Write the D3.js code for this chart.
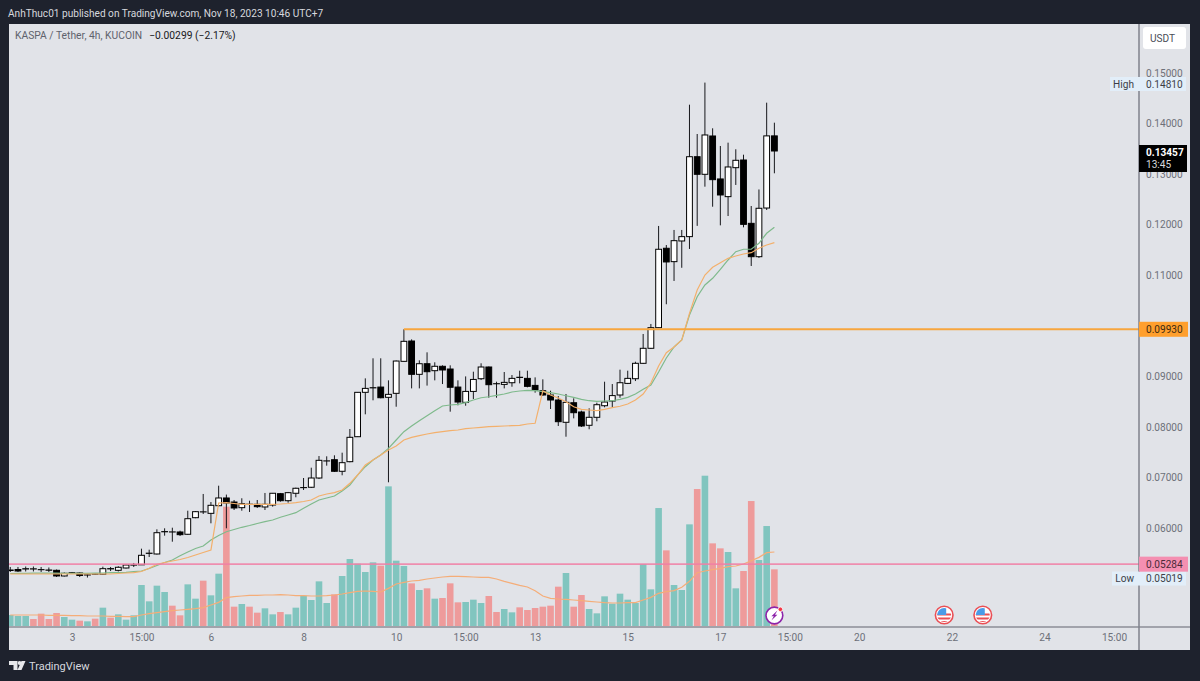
<!DOCTYPE html>
<html>
<head>
<meta charset="utf-8">
<title>KASPA / Tether, 4h</title>
<script src="https://cdn.jsdelivr.net/npm/d3@7/dist/d3.min.js"></script>
<style>
  html, body { margin: 0; padding: 0; background: #1e222d; }
  svg { display: block; }
  text { font-family: Roboto, "Noto Sans", sans-serif; }
</style>
</head>
<body>
<svg id="chart" width="1200" height="681"></svg>
<script>
// KASPA/USDT 4h candles, one entry per bar
const opens = [.05168,.05178,.05188,.05188,.05174,.05168,.05162,.05050,.05115,.05109,
  .05069,.05085,.05085,.05190,.05162,.05208,.05265,.05271,.05497,.05485,
  .05924,.05920,.05920,.05875,.06203,.06317,.06289,.06440,.06593,.06513,
  .06401,.06468,.06468,.06415,.06454,.06678,.06539,.06686,.06797,.06805,
  .06988,.07325,.07350,.07121,.07311,.07805,.08683,.08771,.08787,.08584,
  .08663,.09296,.09698,.09039,.09249,.09111,.09198,.09144,.08787,.08485,
  .08701,.08952,.09184,.08854,.08840,.08873,.08977,.08959,.08820,.08715,
  .08630,.08531,.08090,.08477,.08294,.08031,.08189,.08418,.08511,.08630,
  .08860,.08952,.09257,.09554,.09962,.11533,.11268,.11677,.11763,.13344,
  .12996,.13754,.12904,.12554,.13127,.13279,.12026,.11366,.12329,.13756];
const highs = [.05228,.05228,.05237,.05237,.05228,.05218,.05178,.05119,.05129,.05119,
  .05109,.05099,.05234,.05228,.05242,.05277,.05307,.05590,.05570,.05973,
  .05993,.06005,.05946,.06341,.06335,.06672,.06513,.06836,.06660,.06553,
  .06587,.06539,.06553,.06692,.06692,.06692,.06712,.06797,.06988,.07192,
  .07423,.07417,.07437,.07489,.07957,.08689,.08959,.09356,.09356,.08920,
  .09312,.09930,.09731,.09316,.09474,.09277,.09217,.09217,.08920,.08998,
  .09091,.09257,.09194,.08893,.09085,.09025,.09111,.09111,.08979,.08940,
  .08715,.08610,.08650,.08564,.08320,.08367,.08478,.08893,.08847,.09131,
  .09111,.09289,.09837,.10035,.11974,.11597,.11895,.11895,.14373,.13793,
  .14810,.13906,.13556,.13622,.13491,.13384,.12369,.12696,.14413,.14017];
const lows = [.05129,.05129,.05139,.05139,.05129,.05129,.05030,.05040,.05089,.05030,
  .05019,.05079,.05079,.05148,.05139,.05198,.05228,.05267,.05425,.05475,
  .05847,.05728,.05841,.05867,.06193,.06276,.06092,.06428,.05993,.06355,
  .06341,.06316,.06395,.06355,.06421,.06519,.06500,.06607,.06751,.06791,
  .06968,.07232,.07107,.07042,.07299,.07799,.08248,.08525,.08564,.06903,
  .08398,.09292,.08761,.08761,.08816,.08920,.08847,.08300,.08426,.08418,
  .08551,.08926,.08576,.08576,.08761,.08794,.08860,.08781,.08676,.08610,
  .08353,.08017,.07805,.08168,.07997,.07952,.08110,.08387,.08387,.08576,
  .08847,.08906,.09247,.09540,.09956,.10425,.10886,.11147,.11519,.11976,
  .12751,.12355,.11986,.12171,.12785,.11947,.11182,.11341,.12290,.13016];
const closes = [.05158,.05148,.05194,.05192,.05176,.05164,.05050,.05103,.05113,.05060,
  .05073,.05089,.05194,.05196,.05222,.05267,.05269,.05459,.05501,.05906,
  .05928,.05922,.05867,.06183,.06322,.06319,.06448,.06593,.06494,.06395,
  .06480,.06470,.06421,.06468,.06686,.06539,.06698,.06785,.06799,.06988,
  .07338,.07327,.07121,.07291,.07793,.08683,.08761,.08775,.08576,.08643,
  .09302,.09692,.09039,.09249,.09091,.09198,.09125,.08783,.08491,.08701,
  .08938,.09184,.08834,.08852,.08880,.08959,.08981,.08801,.08729,.08630,
  .08531,.08102,.08485,.08280,.08017,.08189,.08438,.08491,.08618,.08873,
  .08959,.09257,.09554,.09962,.11513,.11262,.11683,.11763,.13344,.12996,
  .13774,.12890,.12587,.13141,.13273,.12006,.11366,.12324,.13756,.13457];

// Moving averages over the candles
const greenAverage = [.05099,.05103,.05103,.05105,.05105,.05105,.05105,.05103,.05103,.05103,
  .05103,.05105,.05109,.05115,.05119,.05123,.05135,.05148,.05198,.05257,
  .05317,.05366,.05451,.05525,.05594,.05643,.05762,.05851,.05926,.05969,
  .06013,.06048,.06088,.06124,.06157,.06211,.06256,.06302,.06389,.06474,
  .06553,.06593,.06632,.06731,.06850,.07047,.07212,.07344,.07443,.07575,
  .07740,.07904,.08017,.08122,.08221,.08320,.08412,.08432,.08446,.08478,
  .08531,.08576,.08596,.08624,.08650,.08689,.08709,.08723,.08715,.08695,
  .08676,.08650,.08616,.08584,.08545,.08517,.08505,.08511,.08517,.08545,
  .08584,.08650,.08743,.08828,.09085,.09362,.09580,.09718,.10213,.10575,
  .10806,.10939,.11117,.11301,.11465,.11513,.11513,.11631,.11829,.11948];
const orangeAverage = [.05089,.05089,.05089,.05089,.05089,.05089,.05089,.05089,.05089,.05089,
  .05089,.05089,.05089,.05089,.05099,.05109,.05115,.05139,.05202,.05281,
  .05317,.05346,.05376,.05416,.05465,.05514,.05564,.06494,.06500,.06484,
  .06468,.06468,.06468,.06468,.06468,.06474,.06484,.06500,.06523,.06553,
  .06632,.06672,.06698,.06751,.06883,.07047,.07245,.07344,.07443,.07542,
  .07621,.07740,.07793,.07825,.07858,.07884,.07904,.07924,.07938,.07964,
  .07977,.07991,.08003,.08011,.08017,.08023,.08031,.08056,.08070,.08709,
  .08630,.08571,.08497,.08398,.08347,.08333,.08320,.08347,.08379,.08407,
  .08452,.08531,.08650,.08867,.09204,.09467,.09580,.09718,.10246,.10707,
  .11004,.11156,.11247,.11334,.11380,.11420,.11446,.11533,.11598,.11644];

// Volume histogram and its average, in thousands of KAS
const volumes = [33,30,30,21,37,21,39,27,19,16,14,22,55,25,35,19,32,123,74,121,
  102,61,32,125,82,136,92,157,358,58,66,58,40,53,35,42,35,55,91,78,
  134,69,95,150,201,187,162,191,181,419,196,180,128,108,113,82,84,128,71,72,
  79,69,90,42,51,41,56,48,54,58,61,118,159,58,93,51,38,89,67,97,
  79,69,186,110,354,227,123,108,305,411,451,248,233,222,113,165,375,198,300,170];
const volumeAverage = [33,33,33,33,33,32,32,32,31,31,30,30,30,29,29,28,28,33,37,40,
  43,46,48,50,52,55,63,71,85,88,90,92,92,93,93,94,93,91,91,90,
  90,91,93,96,100,104,105,104,102,113,126,131,135,137,141,144,147,149,149,148,
  147,146,146,141,134,128,122,117,106,90,83,81,80,78,76,74,72,70,69,69,
  70,70,78,86,98,103,106,116,134,160,165,169,173,178,180,186,196,206,220,222];
const sellBars = [3,4,5,6,9,11,13,21,22,25,28,29,31,32,35,42,48,52,54,56,57,58,62,63,66,67,68,69,70,71,73,74,85,89,91,92,95,96,99];

// Axis labels
const priceTicks = [.15,.14,.13,.12,.11,.09,.08,.07,.06];
const timeTickBars = [8,17,26,38,50,59,68,80,92,101,110,122,134,143];
const timeTickLabels = ["3","15:00","6","8","10","15:00","13","15","17","15:00","20","22","24","15:00"];

// Levels called out on the price scale
const resistance = 0.0993;
const support = 0.05284;
const resistanceStartBar = 51;
const highPrice = 0.1481;
const lowPrice = 0.05019;
const lastPrice = 0.13457;
const barCountdown = "13:45";
const lightningBar = 99;
const flagBars = [121, 126];

const plot = { left: 9, right: 1139, top: 24, bottom: 627, frame: 650, outer: 1190 };
const labelSize = 10.1;

const x = d3.scaleLinear().domain([8, 143]).range([72, 1114]);
const y = d3.scaleLinear().domain([0.05, 0.15]).range([578.5, 73]);
const yVolume = d3.scaleLinear().domain([0, 451]).range([626, 475.7]);

const svg = d3.select("#chart");
const bars = d3.range(opens.length);

// Page header and chart frame
svg.append("rect").attr("width", 1200).attr("height", 681).attr("fill", "#1e222d");
svg.append("text").attr("x", 8).attr("y", 16.5).attr("font-size", 10.1).attr("fill", "#d6d8de")
  .text("AnhThuc01 published on TradingView.com, Nov 18, 2023 10:46 UTC+7");
svg.append("rect").attr("x", plot.left).attr("y", plot.top)
  .attr("width", plot.outer - plot.left).attr("height", plot.frame - plot.top).attr("fill", "#e1e3e8");

svg.append("defs").append("clipPath").attr("id", "pane").append("rect")
  .attr("x", plot.left).attr("y", plot.top)
  .attr("width", plot.right - plot.left).attr("height", plot.bottom - plot.top);
const pane = svg.append("g").attr("clip-path", "url(#pane)");

// Volume bars
pane.append("g").selectAll("rect").data(bars).join("rect")
  .attr("x", i => x(i) - 3.3).attr("width", 6.6)
  .attr("y", i => yVolume(volumes[i]))
  .attr("height", i => yVolume(0) - yVolume(volumes[i]))
  .attr("fill", i => sellBars.includes(i) ? "#ee9b9b" : "#81c5bf");

const lineOf = (scale, series) => d3.line().x((d, i) => x(i)).y(d => scale(d))(series);

pane.append("path").attr("d", lineOf(yVolume, volumeAverage))
  .attr("fill", "none").attr("stroke", "#f5ad78").attr("stroke-width", 1.2);

// Candles: wick first, then the body
const candle = pane.append("g").selectAll("g").data(bars).join("g");
candle.append("line")
  .attr("x1", i => x(i)).attr("x2", i => x(i))
  .attr("y1", i => y(highs[i])).attr("y2", i => y(lows[i]))
  .attr("stroke", "#17181c").attr("stroke-width", 1);
candle.append("rect")
  .attr("x", i => x(i) - 2.9).attr("width", 5.8)
  .attr("y", i => y(Math.max(opens[i], closes[i])))
  .attr("height", i => Math.abs(y(opens[i]) - y(closes[i])))
  .attr("fill", i => closes[i] >= opens[i] ? "#ffffff" : "#000000")
  .attr("stroke", "#000000").attr("stroke-width", 1);

// Candle averages sit above the candles
pane.append("path").attr("d", lineOf(y, greenAverage))
  .attr("fill", "none").attr("stroke", "#7fba8c").attr("stroke-width", 1.2);
pane.append("path").attr("d", lineOf(y, orangeAverage))
  .attr("fill", "none").attr("stroke", "#f3b06c").attr("stroke-width", 1.2);

// Horizontal levels
pane.append("line").attr("x1", x(resistanceStartBar)).attr("x2", plot.right)
  .attr("y1", y(resistance)).attr("y2", y(resistance))
  .attr("stroke", "#f7a63e").attr("stroke-width", 2);
pane.append("line").attr("x1", plot.left).attr("x2", plot.right)
  .attr("y1", y(support)).attr("y2", y(support))
  .attr("stroke", "#f07fa4").attr("stroke-opacity", 0.85).attr("stroke-width", 1.6);

// Economic calendar flags and the lightning event marker
const clip = svg.select("defs");
flagBars.forEach((bar, n) => {
  const cx = x(bar), cy = 615;
  clip.append("clipPath").attr("id", "flag" + n).append("circle").attr("cx", cx).attr("cy", cy).attr("r", 7);
  const g = svg.append("g");
  g.append("circle").attr("cx", cx).attr("cy", cy).attr("r", 8.8)
    .attr("fill", "#ffffff").attr("stroke", "#ea4f55").attr("stroke-width", 1.6);
  const f = g.append("g").attr("clip-path", `url(#flag${n})`);
  f.append("rect").attr("x", cx - 8).attr("y", cy - 8).attr("width", 16).attr("height", 16).attr("fill", "#ffffff");
  [-1.5, 2.5, 6].forEach(dy => f.append("rect").attr("x", cx - 8).attr("y", cy + dy)
    .attr("width", 16).attr("height", 2).attr("fill", "#ea4f55"));
  f.append("rect").attr("x", cx - 8).attr("y", cy - 8).attr("width", 10).attr("height", 8).attr("fill", "#4a9be8");
});
{
  const cx = x(lightningBar), cy = 615.5;
  svg.append("circle").attr("cx", cx).attr("cy", cy).attr("r", 8.4)
    .attr("fill", "#ffffff").attr("stroke", "#8e24aa").attr("stroke-width", 1.6);
  svg.append("path").attr("fill", "#8e24aa")
    .attr("d", `M${cx + 3},${cy - 5} L${cx - 3},${cy + 0.8} H${cx - 0.6} L${cx - 3},${cy + 5} L${cx + 3},${cy - 0.8} H${cx + 0.6} Z`);
  svg.append("circle").attr("cx", cx + 6).attr("cy", cy - 6.2).attr("r", 2.3)
    .attr("fill", "#f23645").attr("stroke", "#ffffff").attr("stroke-width", 0.8);
}

// Time axis
const axisColor = "#6d7079";
const timeAxis = svg.append("g").attr("transform", `translate(0,${plot.bottom})`)
  .call(d3.axisBottom(x).tickValues(timeTickBars)
    .tickFormat(d => timeTickLabels[timeTickBars.indexOf(d)]).tickSize(0).tickPadding(7));
timeAxis.select(".domain").remove();
timeAxis.selectAll("text").attr("font-family", "Roboto, sans-serif").attr("font-size", labelSize).attr("fill", axisColor);

// Price axis
const priceAxis = svg.append("g").attr("transform", `translate(${plot.right},0)`)
  .call(d3.axisRight(y).tickValues(priceTicks).tickFormat(d3.format(".5f")).tickSize(0).tickPadding(7));
priceAxis.select(".domain").remove();
priceAxis.selectAll("text").attr("font-family", "Roboto, sans-serif").attr("font-size", labelSize).attr("fill", axisColor);

// Pane separators
svg.append("line").attr("x1", plot.left).attr("x2", plot.outer).attr("y1", plot.bottom).attr("y2", plot.bottom)
  .attr("stroke", "#8b8e97").attr("stroke-width", 1.5);
svg.append("line").attr("x1", plot.right).attr("x2", plot.right).attr("y1", plot.top).attr("y2", plot.frame)
  .attr("stroke", "#7f828c").attr("stroke-width", 1.5);

// Currency button
svg.append("rect").attr("x", 1143).attr("y", 27).attr("width", 43).attr("height", 22).attr("rx", 3).attr("fill", "#ffffff");
svg.append("text").attr("x", 1162.5).attr("y", 42).attr("text-anchor", "middle").attr("font-size", labelSize).attr("fill", "#4a4d57").text("USDT");

// Price tags on the axis
function tag(cy, h, fill, color, label, width) {
  svg.append("rect").attr("x", plot.right).attr("y", cy - h / 2).attr("width", width).attr("height", h).attr("fill", fill);
  svg.append("text").attr("x", plot.right + 7).attr("y", cy + 3.7).attr("font-size", labelSize).attr("fill", color).text(label);
}
function sideTag(cy, leftEdge, label) {
  svg.append("rect").attr("x", leftEdge).attr("y", cy - 7).attr("width", plot.right - leftEdge).attr("height", 14).attr("fill", "#e2eef9");
  svg.append("text").attr("x", plot.right - 5).attr("y", cy + 3.7).attr("text-anchor", "end")
    .attr("font-size", labelSize).attr("fill", "#3c3f48").text(label);
}
const fmt = d3.format(".5f");

sideTag(y(highPrice) + 1.4, 1110, "High");
tag(y(highPrice) + 1.4, 14, "#e2eef9", "#3c3f48", fmt(highPrice), 47);
sideTag(y(lowPrice) + 1, 1112, "Low");
tag(y(lowPrice) + 1, 14, "#e2eef9", "#3c3f48", fmt(lowPrice), 47);
tag(y(support), 15, "#f48fb1", "#4a2a38", fmt(support), 49);
tag(y(resistance), 15, "#ff9f2d", "#3b2a12", fmt(resistance), 49);

svg.append("rect").attr("x", plot.right).attr("y", y(lastPrice) - 6).attr("width", 48).attr("height", 27).attr("fill", "#000000");
svg.append("text").attr("x", plot.right + 7).attr("y", y(lastPrice) + 5.5).attr("font-size", labelSize)
  .attr("font-weight", 700).attr("fill", "#ffffff").text(fmt(lastPrice));
svg.append("text").attr("x", plot.right + 7).attr("y", y(lastPrice) + 17).attr("font-size", labelSize)
  .attr("fill", "#d6d8de").text(barCountdown);

// Symbol legend
const legend = svg.append("text").attr("x", 15).attr("y", 39).attr("font-size", 10.3);
legend.append("tspan").attr("fill", "#5f626c").text("KASPA / Tether, 4h, KUCOIN");
legend.append("tspan").attr("dx", 7).attr("fill", "#17181c").text("\u22120.00299 (\u22122.17%)");

// Brand mark
svg.append("path").attr("fill", "#e6e7ea").attr("d", "M9,661H17.5V670H13.5V665H9Z M25.5,661L21.5,670H17.5L21.5,661Z");
svg.append("circle").attr("cx", 19.6).attr("cy", 663).attr("r", 1.9).attr("fill", "#e6e7ea");
svg.append("text").attr("x", 29).attr("y", 670).attr("font-size", 11).attr("fill", "#d6d8de").text("TradingView");
</script>
</body>
</html>
